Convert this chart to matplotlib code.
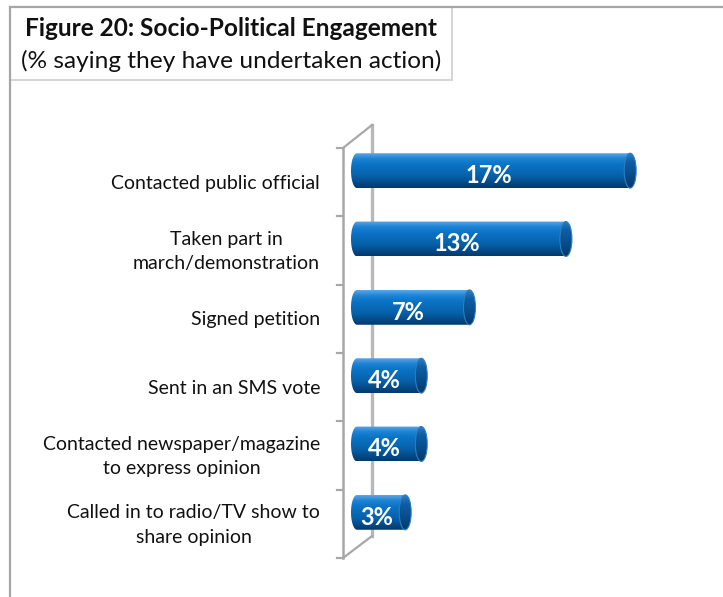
import numpy as np
import matplotlib
matplotlib.use("Agg")
import matplotlib.pyplot as plt
from matplotlib.path import Path
from matplotlib.patches import PathPatch, Ellipse
from matplotlib.colors import LinearSegmentedColormap
from matplotlib.lines import Line2D
from matplotlib.patches import Rectangle

plt.rcParams["font.family"] = ["Lato", "DejaVu Sans"]

# Survey data
categories = [
    "Contacted public official",
    "Taken part in\nmarch/demonstration",
    "Signed petition",
    "Sent in an SMS vote",
    "Contacted newspaper/magazine\nto express opinion",
    "Called in to radio/TV show to\nshare opinion",
]
values = [17, 13, 7, 4, 4, 3]
value_labels = ["17%", "13%", "7%", "4%", "4%", "3%"]

title = "Figure 20: Socio-Political Engagement"
subtitle = "(% saying they have undertaken action)"

W, H = 723, 597
fig = plt.figure(figsize=(W / 100, H / 100), dpi=100)

# Decoration layer in pixel coordinates (frame, title box, 3-D wall, category labels)
deco = fig.add_axes([0, 0, 1, 1], zorder=0)
deco.set_xlim(0, W)
deco.set_ylim(H, 0)
deco.axis("off")

# outer frame
deco.add_line(Line2D([10, W], [7, 7], color="#A6A6A6", lw=1.6))
deco.add_line(Line2D([10, 10], [7, H], color="#A6A6A6", lw=1.6))
# title box
deco.add_patch(Rectangle((10, 7), 442, 73, fill=False, ec="#D4D4D4", lw=1.4))
deco.text(231, 28, title, ha="center", va="center", fontsize=17.6,
          fontweight="bold", color="#111111")
deco.text(231, 61, subtitle, ha="center", va="center", fontsize=17.6,
          color="#111111")

# 3-D axis wall
n = len(categories)
front_x, back_x = 343, 372
front_top, front_bot = 148, 558
back_top, back_bot = 125, 536
wall = "#A8A8A8"
deco.add_line(Line2D([back_x, back_x], [back_top, back_bot], color="#B8B8B8", lw=2.4))
deco.add_line(Line2D([front_x, back_x], [front_top, back_top], color=wall, lw=1.6))
deco.add_line(Line2D([front_x, back_x], [front_bot, back_bot], color=wall, lw=1.6))
deco.add_line(Line2D([front_x, front_x], [front_top, front_bot], color=wall, lw=1.8))
step = (front_bot - front_top) / n
for i in range(n + 1):
    y = front_top + i * step
    deco.add_line(Line2D([front_x - 6, front_x], [y, y], color=wall, lw=1.6))

for i, lab in enumerate(categories):
    yc = front_top + (i + 0.5) * step
    deco.text(320, yc + 1, lab, ha="right", va="center", multialignment="center",
              fontsize=14, color="#111111", linespacing=1.55)

# Bar layer: value axis in percentage points, categories top to bottom
px_per_unit = 16.07
zero_px = 357
ax_left, ax_right = 343, 700
ax_top, ax_bot = 136.5, 546.5
ax = fig.add_axes([ax_left / W, 1 - ax_bot / H, (ax_right - ax_left) / W,
                   (ax_bot - ax_top) / H], zorder=1)
ax.patch.set_alpha(0)
ax.axis("off")
ax.set_xlim((ax_left - zero_px) / px_per_unit, (ax_right - zero_px) / px_per_unit)
ax.set_ylim(-0.5, n - 0.5)

body_cmap = LinearSegmentedColormap.from_list(
    "body", ["#5AA6E6", "#1C82D3", "#0B72C4", "#086AB8", "#0760A8", "#054C8A", "#03396A"])
cap_cmap = LinearSegmentedColormap.from_list(
    "cap", ["#2C7FC6", "#0E5EA3", "#0A5395", "#074780", "#053764"])

bar_h = 0.51
cap_a = 6 / px_per_unit
grad = np.linspace(0, 1, 128).reshape(-1, 1)

for i, v in enumerate(values):
    yc = n - 1 - i
    top, bot = yc + bar_h / 2, yc - bar_h / 2
    th = np.linspace(1.5 * np.pi, 0.5 * np.pi, 40)
    ex = cap_a * np.cos(th)
    ey = yc + (bar_h / 2) * np.sin(th)
    verts = [(0, top), (v, top), (v, bot), (0, bot)] + list(zip(ex, ey)) + [(0, top)]
    codes = [Path.MOVETO] + [Path.LINETO] * (len(verts) - 2) + [Path.CLOSEPOLY]
    body = PathPatch(Path(verts, codes), fc="none", ec="none")
    ax.add_patch(body)
    im = ax.imshow(grad, cmap=body_cmap, aspect="auto", origin="upper",
                   extent=(-cap_a, v + cap_a, bot, top), zorder=2, interpolation="bilinear")
    im.set_clip_path(body)

    cap = Ellipse((v, yc), 2 * cap_a, bar_h, fc="none", ec="#2F7DC0", lw=0.8, zorder=4)
    ax.add_patch(cap)
    im2 = ax.imshow(grad, cmap=cap_cmap, aspect="auto", origin="upper",
                    extent=(v - cap_a, v + cap_a, bot, top), zorder=3, interpolation="bilinear")
    im2.set_clip_path(cap)

    ax.text(v / 2 - 0.3, yc - 0.07, value_labels[i], ha="center", va="center",
            color="white", fontsize=17, fontweight="bold", zorder=5)

fig.savefig("out.png", dpi=100)
